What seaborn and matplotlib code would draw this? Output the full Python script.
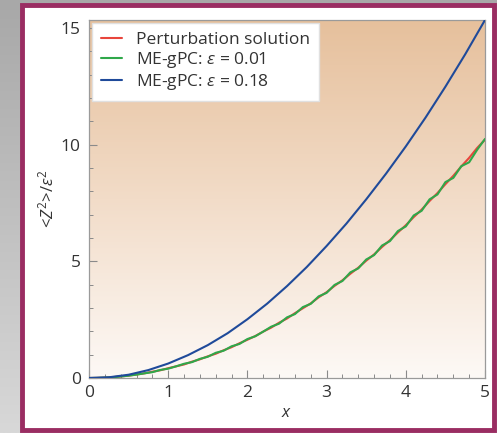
import numpy as np
import pandas as pd
import seaborn as sns
import matplotlib
matplotlib.use("Agg")
import matplotlib.pyplot as plt
from matplotlib.patches import Rectangle
from matplotlib.colors import LinearSegmentedColormap

# ---- data ----
x_fine = [round(0.1 * i, 1) for i in range(51)]
perturbation = [0, 0.004, 0.016, 0.037, 0.066, 0.10, 0.15, 0.20, 0.27, 0.33,
                0.42, 0.50, 0.58, 0.70, 0.80, 0.93, 1.04, 1.19, 1.32, 1.49,
                1.64, 1.80, 1.99, 2.16, 2.37, 2.55, 2.78, 2.99, 3.20, 3.46,
                3.68, 3.95, 4.19, 4.47, 4.73, 5.03, 5.30, 5.62, 5.91, 6.24,
                6.55, 6.90, 7.22, 7.59, 7.93, 8.31, 8.67, 9.07, 9.44, 9.86, 10.22]
megpc_001 = [0, 0.004, 0.016, 0.035, 0.064, 0.10, 0.145, 0.20, 0.25, 0.345,
             0.40, 0.50, 0.61, 0.68, 0.82, 0.91, 1.08, 1.17, 1.36, 1.46,
             1.67, 1.79, 1.99, 2.20, 2.33, 2.60, 2.74, 3.04, 3.18, 3.50,
             3.65, 3.99, 4.16, 4.53, 4.70, 5.08, 5.27, 5.68, 5.87, 6.30,
             6.50, 6.97, 7.17, 7.66, 7.87, 8.40, 8.58, 9.08, 9.25, 9.78, 10.25]
x_coarse = [0, 0.25, 0.5, 0.75, 1.0, 1.25, 1.5, 1.75, 2.0, 2.25, 2.5,
            2.75, 3.0, 3.25, 3.5, 3.75, 4.0, 4.25, 4.5, 4.75, 5.0]
megpc_018 = [0, 0.03, 0.14, 0.34, 0.62, 0.98, 1.41, 1.92, 2.52, 3.19, 3.94,
             4.76, 5.66, 6.62, 7.66, 8.76, 9.93, 11.17, 12.49, 13.88, 15.35]

labels = ["Perturbation solution", r"ME-gPC: $\varepsilon$ = 0.01", r"ME-gPC: $\varepsilon$ = 0.18"]
colors = ["#e8453c", "#2fa84a", "#1f4a9a"]

sns.set_style("ticks")
plt.rcParams["font.family"] = ["Open Sans", "DejaVu Sans"]
plt.rcParams["mathtext.fontset"] = "custom"
plt.rcParams["mathtext.rm"] = "Open Sans"
plt.rcParams["mathtext.it"] = "Open Sans:italic"

fig = plt.figure(figsize=(4.97, 4.33), dpi=100)

# outer gray background gradient
bg = fig.add_axes([0, 0, 1, 1], zorder=-10)
grad = np.linspace(0, 1, 256).reshape(-1, 1)
gcm = LinearSegmentedColormap.from_list("g", ["#a8a8a8", "#d8d8d8"])
bg.imshow(grad, cmap=gcm, aspect="auto", extent=[0, 1, 0, 1], origin="upper")
bg.add_patch(Rectangle((21.5 / 497, 3.5 / 433), 472 / 497, 425 / 433,
                       facecolor="white", edgecolor="#9a2d62", linewidth=3.5,
                       transform=bg.transAxes))
bg.set_xlim(0, 1); bg.set_ylim(0, 1)
bg.axis("off")

ax = fig.add_axes([89 / 497, 1 - 378 / 433, 396 / 497, 358 / 433])
ax.set_facecolor("none")

df_r = pd.DataFrame({"x": x_fine, "y": perturbation})
df_g = pd.DataFrame({"x": x_fine, "y": megpc_001})
df_b = pd.DataFrame({"x": x_coarse, "y": megpc_018})
sns.lineplot(data=df_r, x="x", y="y", ax=ax, color=colors[0], lw=1.5, label=labels[0], zorder=3)
sns.lineplot(data=df_g, x="x", y="y", ax=ax, color=colors[1], lw=1.5, label=labels[1], zorder=4)
sns.lineplot(data=df_b, x="x", y="y", ax=ax, color=colors[2], lw=1.5, label=labels[2], zorder=4)

# gradient inside axes
acm = LinearSegmentedColormap.from_list("a", ["#e6c09c", "#f2dcc8", "#fdf9f6"])
ax.imshow(grad, cmap=acm, aspect="auto", extent=[0, 5, 0, 15.35], origin="upper", zorder=0)
ax.set_xlim(0, 5)
ax.set_ylim(0, 15.35)

ax.set_xticks([0, 1, 2, 3, 4, 5])
ax.set_yticks([0, 5, 10, 15])
ax.set_xticks(np.arange(0, 5.01, 0.2), minor=True)
ax.set_yticks(np.arange(0, 15.01, 1), minor=True)
ax.tick_params(which="both", direction="in", colors="#8a8a8a", labelcolor="#333333",
               labelsize=12.5)
ax.tick_params(which="major", length=6, width=0.8)
ax.tick_params(which="minor", length=3, width=0.7)
ax.tick_params(axis="x", pad=5)
ax.tick_params(axis="y", pad=6)
for s in ax.spines.values():
    s.set_color("#9a9a9a")
    s.set_linewidth(0.9)

ax.set_xlabel("$x$", fontsize=12, color="#333333", labelpad=3)
ax.set_ylabel(r"<$Z^2$>/$\varepsilon^2$", fontsize=12, color="#333333", labelpad=2)

leg = ax.legend(loc="upper left", frameon=True, fontsize=12.5, handlelength=1.2,
                handletextpad=0.8, borderaxespad=0.15, labelspacing=0.1,
                fancybox=False, borderpad=0.55)
leg.get_frame().set_facecolor("white")
leg.get_frame().set_edgecolor("#e0e0e0")
leg.get_frame().set_alpha(1)
for t in leg.get_texts():
    t.set_color("#333333")

fig.savefig("out.png", dpi=100)
